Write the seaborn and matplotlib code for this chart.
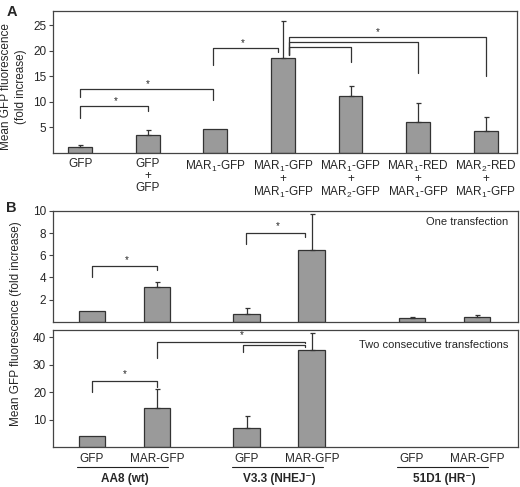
import numpy as np
import matplotlib
matplotlib.use('Agg')
import matplotlib.pyplot as plt
import matplotlib.transforms as mtrans
import seaborn as sns

sns.set_style("white")
plt.rcParams['font.family'] = ['Liberation Sans', 'DejaVu Sans']
plt.rcParams['mathtext.fontset'] = 'custom'
plt.rcParams['mathtext.rm'] = 'Liberation Sans'
plt.rcParams['mathtext.it'] = 'Liberation Sans'

# ---- panel A data
a_labels = ['GFP', 'GFP\n+\nGFP', r'MAR$_1$-GFP',
            'MAR$_1$-GFP\n+\nMAR$_1$-GFP', 'MAR$_1$-GFP\n+\nMAR$_2$-GFP',
            'MAR$_1$-RED\n+\nMAR$_1$-GFP', 'MAR$_2$-RED\n+\nMAR$_1$-GFP']
a_pos = [0, 1, 2, 3, 4, 5, 6]
a_vals = [1.2, 3.5, 4.7, 18.6, 11.2, 6.1, 4.3]
a_err = [0.4, 1.0, 0.0, 7.3, 1.9, 3.7, 2.7]
# brackets: x1, x2, top, left leg end, right leg end, star x, star y
a_brackets = [(0, 1, 9.2, 6.9, 8.2, 0.53, 10.2),
              (0, 1.96, 12.5, 11.0, 10.4, 1.0, 13.5),
              (1.97, 2.93, 20.6, 17.2, 19.8, 2.4, 21.6),
              (3.09, 4, 20.8, 19.2, 17.8, None, None),
              (3.09, 5, 21.8, 19.2, 15.7, None, None),
              (3.09, 6, 22.7, 19.2, 15.1, 4.4, 23.8)]

# ---- panel B data
b_pos = [0, 1, 2.38, 3.38, 4.92, 5.92]
b_ticks = ['GFP', 'MAR-GFP', 'GFP', 'MAR-GFP', 'GFP', 'MAR-GFP']
b_groups = ['AA8 (wt)', 'V3.3 (NHEJ⁻)', '51D1 (HR⁻)']
one_vals = [1.0, 3.15, 0.75, 6.5, 0.35, 0.45]
one_err = [0.0, 0.45, 0.5, 3.2, 0.1, 0.15]
two_vals = [4.0, 14.2, 6.9, 35.3, np.nan, np.nan]
two_err = [0.0, 6.9, 4.4, 6.2, 0.0, 0.0]
one_brackets = [(0, 1, 5.05, 4.05, 4.7, 0.53, 5.6),
                (2.37, 3.28, 8.0, 7.0, 7.65, 2.85, 8.6)]
two_brackets = [(0, 1, 24.0, 20.0, 21.8, 0.5, 26.5),
                (1.0, 3.28, 38.2, 32.4, 37.8, 2.3, 40.8),
                (2.32, 3.28, 37.1, 34.5, 36.4, None, None)]

bar_col = '#9a9a9a'
edge_col = '#333333'
line_col = '#333333'


def bars(ax, pos, vals, err, width):
    sns.barplot(x=pos, y=vals, native_scale=True, width=width, color=bar_col,
                edgecolor=edge_col, linewidth=0.9, saturation=1, ax=ax)
    p = np.array(pos, float)
    v = np.array(vals, float)
    e = np.array(err, float)
    m = (e > 0) & ~np.isnan(v)
    ax.errorbar(p[m], v[m], yerr=[np.zeros(m.sum()), e[m]], fmt='none',
                ecolor=line_col, elinewidth=0.9, capsize=1.8, capthick=0.9)


def brackets(ax, items):
    for x1, x2, top, h1, h2, sx, sy in items:
        ax.plot([x1, x1, x2, x2], [h1, top, top, h2], color=line_col, lw=0.9)
        if sx is not None:
            ax.text(sx, sy, '*', ha='center', va='center', fontsize=7)


def frame(ax):
    for s in ax.spines.values():
        s.set_visible(True)
        s.set_color('#444444')
        s.set_linewidth(0.9)
    ax.tick_params(axis='y', left=True, length=3, width=0.8, labelsize=8.5,
                   pad=2, color='#444444')
    ax.set_xlabel('')
    ax.set_ylabel('')


fig = plt.figure(figsize=(5.2, 4.87), dpi=100)

# ---- A
axA = fig.add_axes([0.102, 0.686, 0.892, 0.291])
bars(axA, a_pos, a_vals, a_err, 0.35)
brackets(axA, a_brackets)
axA.set_xlim(-0.4, 6.46)
axA.set_ylim(0, 27.8)
axA.set_yticks([5, 10, 15, 20, 25])
axA.set_xticks(a_pos)
axA.set_xticklabels(a_labels, fontsize=8.5, linespacing=0.95, va='top')
axA.tick_params(axis='x', length=0, pad=4)
frame(axA)
fig.text(0.026, 0.822, 'Mean GFP fluorescence\n(fold increase)', rotation=90,
         ha='center', va='center', fontsize=8.5, linespacing=1.3)
fig.text(0.012, 0.975, 'A', fontsize=10.5, fontweight='bold', va='center')

# ---- B, one transfection
axB1 = fig.add_axes([0.102, 0.339, 0.894, 0.228])
bars(axB1, b_pos, one_vals, one_err, 0.41)
brackets(axB1, one_brackets)
axB1.set_xlim(-0.6, 6.55)
axB1.set_ylim(0, 10)
axB1.set_yticks([2, 4, 6, 8, 10])
axB1.set_xticks([])
frame(axB1)
axB1.text(0.98, 0.9, 'One transfection', transform=axB1.transAxes,
          ha='right', va='center', fontsize=8)

# ---- B, two transfections
axB2 = fig.add_axes([0.102, 0.082, 0.894, 0.240])
bars(axB2, b_pos, two_vals, two_err, 0.41)
brackets(axB2, two_brackets)
axB2.set_xlim(-0.6, 6.55)
axB2.set_ylim(0, 42.5)
axB2.set_yticks([10, 20, 30, 40])
axB2.set_xticks(b_pos)
axB2.set_xticklabels(b_ticks, fontsize=8.5)
axB2.tick_params(axis='x', length=0, pad=4)
frame(axB2)
axB2.text(0.98, 0.87, 'Two consecutive transfections', transform=axB2.transAxes,
          ha='right', va='center', fontsize=8)

trans = mtrans.blended_transform_factory(axB2.transData, axB2.transAxes)
for i, g in enumerate(b_groups):
    x1 = b_pos[2 * i] - 0.23
    x2 = b_pos[2 * i + 1] + 0.17
    axB2.plot([x1, x2], [-0.171, -0.171], color='#222222', lw=0.8,
              transform=trans, clip_on=False)
    axB2.text((b_pos[2 * i] + b_pos[2 * i + 1]) / 2, -0.275, g, transform=trans,
              ha='center', va='center', fontsize=8.5, fontweight='bold')

fig.text(0.031, 0.335, 'Mean GFP fluorescence (fold increase)', rotation=90,
         ha='center', va='center', fontsize=8.5)
fig.text(0.012, 0.572, 'B', fontsize=10.5, fontweight='bold', va='center')

fig.savefig('out.png', dpi=100)
